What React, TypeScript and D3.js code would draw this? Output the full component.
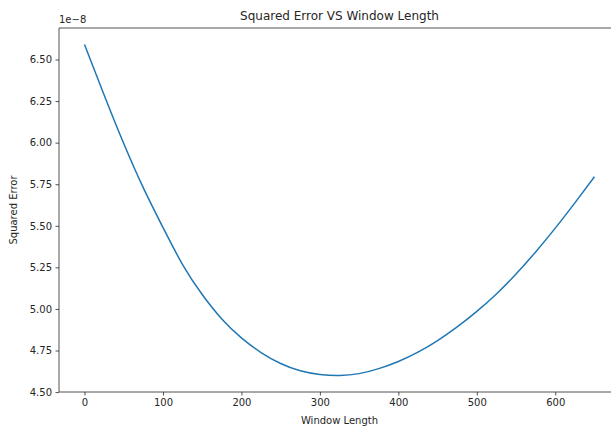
import React, { useRef, useEffect } from 'react';
import * as d3 from 'd3';

// Window length (x) and squared error (in units of 1e-8)
const windowLengths = [0, 25, 50, 75, 100, 125, 150, 175, 200, 225, 250, 275, 300, 325,
  350, 375, 400, 425, 450, 475, 500, 525, 550, 575, 600, 625, 650];
const squaredError = [6.59, 6.287, 5.995, 5.728, 5.49, 5.267, 5.087, 4.94, 4.826, 4.738, 4.672, 4.628, 4.606, 4.6,
  4.611, 4.641, 4.684, 4.74, 4.81, 4.892, 4.985, 5.09, 5.21, 5.343, 5.486, 5.638, 5.795];
const xTicks = [0, 100, 200, 300, 400, 500, 600];
const yTicks = [4.5, 4.75, 5.0, 5.25, 5.5, 5.75, 6.0, 6.25, 6.5];

function App() {
  const svgRef = useRef<SVGSVGElement | null>(null);
  const width = 611;
  const height = 428;

  useEffect(() => {
    const root = d3.select(svgRef.current);
    root.selectAll('*').remove();

    const margin = { top: 28, right: -9, bottom: 36, left: 59 };
    const innerWidth = width - margin.left - margin.right;
    const innerHeight = height - margin.top - margin.bottom;
    const font = 'DejaVu Sans, sans-serif';
    const textColor = '#262626';

    // matplotlib-style 5% margins around the data
    const [x0, x1] = d3.extent(windowLengths) as [number, number];
    const [y0, y1] = d3.extent(squaredError) as [number, number];
    const xPad = (x1 - x0) * 0.05;
    const yPad = (y1 - y0) * 0.05;

    const xScale = d3.scaleLinear().domain([x0 - xPad, x1 + xPad]).range([0, innerWidth]);
    const yScale = d3.scaleLinear().domain([y0 - yPad, y1 + yPad]).range([innerHeight, 0]);

    const svg = root.append('g').attr('transform', `translate(${margin.left},${margin.top})`);

    // Line
    const line = d3.line<number>()
      .x((d, i) => xScale(windowLengths[i]))
      .y(d => yScale(d))
      .curve(d3.curveNatural);

    svg.append('path')
      .datum(squaredError)
      .attr('fill', 'none')
      .attr('stroke', '#1f77b4')
      .attr('stroke-width', 1.5)
      .attr('d', line);

    // Axes
    const xAxis = svg.append('g')
      .attr('transform', `translate(0,${innerHeight})`)
      .call(d3.axisBottom(xScale).tickValues(xTicks).tickFormat(d3.format('d')).tickSizeOuter(0).tickSize(3.5).tickPadding(3.5));
    const yAxis = svg.append('g')
      .call(d3.axisLeft(yScale).tickValues(yTicks).tickFormat(d3.format('.2f')).tickSizeOuter(0).tickSize(3.5).tickPadding(3.5));

    [xAxis, yAxis].forEach(ax => {
      ax.select('.domain').remove();
      ax.selectAll('line').attr('stroke', textColor).attr('stroke-width', 0.8);
      ax.selectAll('text').attr('fill', textColor).style('font-family', font).style('font-size', '10px');
    });

    // Spines (the right one falls outside the picture)
    const spine = (x1: number, y1: number, x2: number, y2: number) =>
      svg.append('line')
        .attr('x1', x1).attr('y1', y1).attr('x2', x2).attr('y2', y2)
        .attr('stroke', textColor).attr('stroke-width', 0.8);
    spine(0, 0, innerWidth, 0);
    spine(0, innerHeight, innerWidth, innerHeight);
    spine(0, 0, 0, innerHeight);

    // Offset label
    svg.append('text')
      .attr('x', 0)
      .attr('y', -5)
      .style('font-family', font)
      .style('font-size', '10px')
      .attr('fill', textColor)
      .text('1e\u22128');

    // Title
    svg.append('text')
      .attr('x', innerWidth / 2)
      .attr('y', -8)
      .attr('text-anchor', 'middle')
      .style('font-family', font)
      .style('font-size', '12px')
      .attr('fill', textColor)
      .text('Squared Error VS Window Length');

    // Axis labels
    svg.append('text')
      .attr('x', innerWidth / 2)
      .attr('y', innerHeight + 32)
      .attr('text-anchor', 'middle')
      .style('font-family', font)
      .style('font-size', '10px')
      .attr('fill', textColor)
      .text('Window Length');

    svg.append('text')
      .attr('transform', 'rotate(-90)')
      .attr('x', -innerHeight / 2)
      .attr('y', -42)
      .attr('text-anchor', 'middle')
      .style('font-family', font)
      .style('font-size', '10px')
      .attr('fill', textColor)
      .text('Squared Error');
  }, []);

  return (
    <svg
      ref={svgRef}
      width={width}
      height={height}
      style={{ position: 'absolute', left: 0, top: 0, background: '#fff' }}
    />
  );
}

export default App;
